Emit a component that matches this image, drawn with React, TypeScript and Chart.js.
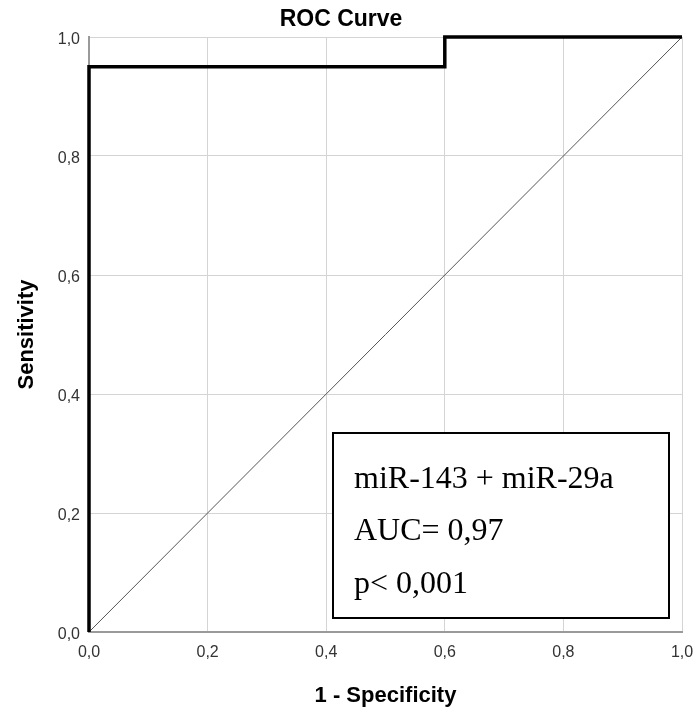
import { useEffect, useRef } from "react";
import { Chart, registerables } from "chart.js";

Chart.register(...registerables);

// ---- data ----
const rocFpr = [0, 0, 0.6, 0.6, 1];
const rocTpr = [0, 0.95, 0.95, 1, 1];
const refFpr = [0, 1];
const refTpr = [0, 1];
const tickValues = [0, 0.2, 0.4, 0.6, 0.8, 1];
const chartTitle = "ROC Curve";
const xTitle = "1 - Specificity";
const yTitle = "Sensitivity";
const boxLines = ["miR-143 + miR-29a", "AUC= 0,97", "p< 0,001"];

const SANS = "'Liberation Sans', Arial, sans-serif";
const SERIF = "'Liberation Serif', 'Times New Roman', serif";

const fmt = (v: number) => v.toFixed(1).replace(".", ",");

const textPlugin = {
  id: "rocText",
  afterDraw(chart: any) {
    const ctx = chart.ctx as CanvasRenderingContext2D;
    const a = chart.chartArea;
    ctx.save();
    ctx.fillStyle = "#000";
    // title
    ctx.font = `bold 23px ${SANS}`;
    ctx.textAlign = "center";
    ctx.textBaseline = "alphabetic";
    ctx.fillText(chartTitle, 341, a.top - 11);
    // x title
    ctx.font = `bold 22px ${SANS}`;
    ctx.fillText(xTitle, (a.left + a.right) / 2, a.bottom + 70);
    // y title
    ctx.save();
    ctx.translate(33, (a.top + a.bottom) / 2);
    ctx.rotate(-Math.PI / 2);
    ctx.fillText(yTitle, 0, 0);
    ctx.restore();
    // legend box
    const bx = a.left + 244;
    const by = a.top + 396;
    const bw = 336;
    const bh = 185;
    ctx.fillStyle = "#fff";
    ctx.fillRect(bx, by, bw, bh);
    ctx.strokeStyle = "#000";
    ctx.lineWidth = 2;
    ctx.strokeRect(bx, by, bw, bh);
    ctx.fillStyle = "#000";
    ctx.font = `32px ${SERIF}`;
    ctx.textAlign = "left";
    const baselines = [55, 107, 160];
    boxLines.forEach((t, i) => ctx.fillText(t, bx + 21, by + baselines[i]));
    ctx.restore();
  },
};

export default function App() {
  const ref = useRef<HTMLCanvasElement | null>(null);
  useEffect(() => {
    document.body.style.margin = "0";
    const canvas = ref.current;
    if (!canvas) return;
    const chart = new Chart(canvas, {
      type: "scatter",
      data: {
        datasets: [
          {
            label: "Reference",
            data: refFpr.map((x, i) => ({ x, y: refTpr[i] })),
            showLine: true,
            borderColor: "#555",
            borderWidth: 1,
            pointRadius: 0,
            clip: false as any,
            order: 2,
          },
          {
            label: "ROC",
            data: rocFpr.map((x, i) => ({ x, y: rocTpr[i] })),
            showLine: true,
            borderColor: "#000",
            borderWidth: 3.5,
            pointRadius: 0,
            clip: false as any,
            order: 1,
          },
        ],
      },
      options: {
        responsive: false,
        animation: false,
        devicePixelRatio: 1,
        layout: { padding: { left: 0, top: 37, right: 17, bottom: 0 } },
        plugins: {
          legend: { display: false },
          tooltip: { enabled: false },
          title: { display: false },
        },
        scales: {
          x: {
            type: "linear",
            min: 0,
            max: 1,
            afterBuildTicks: (s: any) => {
              s.ticks = tickValues.map((v) => ({ value: v }));
            },
            afterFit: (s: any) => {
              s.height = 86;
              s.paddingRight = 0;
              s.paddingLeft = 0;
            },
            ticks: {
              callback: (v: any) => fmt(Number(v)),
              color: "#333",
              font: { family: SANS, size: 16 },
              padding: 11,
              maxRotation: 0,
            },
            grid: { color: "#d4d4d4", lineWidth: 1, drawTicks: false },
            border: { color: "#9a9a9a", width: 2 },
          },
          y: {
            type: "linear",
            min: 0,
            max: 1,
            afterBuildTicks: (s: any) => {
              s.ticks = tickValues.map((v) => ({ value: v }));
            },
            afterFit: (s: any) => {
              s.width = 89;
              s.paddingTop = 0;
              s.paddingBottom = 0;
            },
            ticks: {
              callback: (v: any) => fmt(Number(v)),
              color: "#333",
              font: { family: SANS, size: 16 },
              padding: 9,
              labelOffset: 3,
            },
            grid: { color: "#d4d4d4", lineWidth: 1, drawTicks: false },
            border: { color: "#9a9a9a", width: 2 },
          },
        },
      },
      plugins: [textPlugin],
    });
    return () => chart.destroy();
  }, []);
  return (
    <div style={{ width: 699, height: 718, background: "#fff" }}>
      <canvas ref={ref} width={699} height={718} style={{ display: "block" }} />
    </div>
  );
}
